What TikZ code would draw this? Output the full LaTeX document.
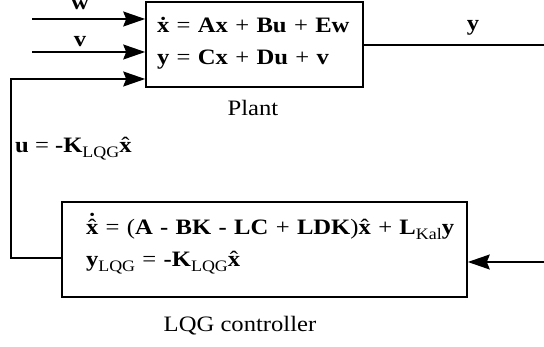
\documentclass[tikz,border=0pt]{standalone}
\usepackage{fontspec}
\setmainfont{Liberation Serif}[FakeStretch=1.12]
\usetikzlibrary{arrows.meta}
\newcommand{\xh}{\ooalign{\textbf{x}\cr\hidewidth\mdseries ˆ\hidewidth\cr}}
\newcommand{\xd}{\ooalign{\textbf{x}\cr\hidewidth\textbf{˙}\hidewidth\cr}}
\newcommand{\xhd}{\ooalign{\textbf{x}\cr\hidewidth\mdseries ˆ\hidewidth\cr\hidewidth\raisebox{0.27em}{\textbf{˙}}\hidewidth\cr}}
\newcommand{\lsub}[1]{\raisebox{-0.22em}{\fontsize{16}{16}\selectfont\mdseries #1}}
\tikzset{
  every node/.style={font=\fontsize{22}{32}\selectfont, inner sep=0pt},
  ln/.style={line width=1.6pt},
  arr/.style={ln, -{Stealth[length=22pt,width=15pt,inset=3pt]}},
  blockbox/.style={draw, line width=1.6pt, align=left, inner ysep=0pt, inner xsep=2pt},
}
\begin{document}
\begin{tikzpicture}[x=1pt,y=-1pt]
\useasboundingbox (0,0) rectangle (544,347);
\node[blockbox, minimum width=217pt, minimum height=85pt, text width=213pt] (plant) at (254.5,44.5)
  {\hspace*{9pt}\xd{} = \textbf{Ax} + \textbf{Bu} + \textbf{Ew}\\ \hspace*{9pt}\textbf{y} = \textbf{Cx} + \textbf{Du} + \textbf{v}\rule[-7.5pt]{0pt}{0pt}};
\node[blockbox, minimum width=405pt, minimum height=95pt, text width=401pt] (ctrl) at (264.5,249.5)
  {\hspace*{22pt}\xhd{} = (\textbf{A - BK - LC} + \textbf{LDK})\xh{} + \textbf{L}\lsub{Kal}\textbf{y}\\ \hspace*{22pt}\textbf{y}\lsub{LQG} = \textbf{-K}\lsub{LQG}\xh\rule[-13pt]{0pt}{0pt}};
\node[anchor=base] (wl) at (80,10) {\textbf{w}};
\node[anchor=base] (vl) at (80,47) {\textbf{v}};
\node[anchor=base] (yl) at (473,31) {\textbf{y}};
\node[anchor=base west] (ul) at (15,153) {\textbf{u} = \textbf{-K}\lsub{LQG}\xh};
\node[anchor=base] (plantl) at (253,116) {Plant};
\node[anchor=base] (ctrll) at (240,332) {LQG controller};
\coordinate (win) at (32,19);
\coordinate (vin) at (32,52);
\coordinate (fbT) at (11,79);
\coordinate (fbL) at (11,258);
\coordinate (yout) at (544,45);
\coordinate (yin) at (544,262);
\draw[arr] (win) -- (plant.west |- win);
\draw[arr] (vin) -- (plant.west |- vin);
\draw[arr] (ctrl.west |- fbL) -- (fbL) -- (fbT) -- (plant.west |- fbT);
\draw[ln] (plant.east |- yout) -- (yout);
\draw[arr] (yin) -- (ctrl.east |- yin);
\end{tikzpicture}
\end{document}
